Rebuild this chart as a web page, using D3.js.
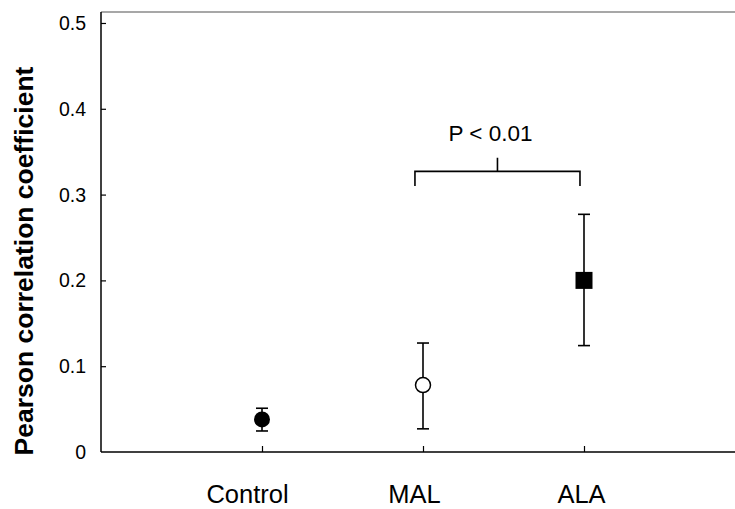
<!DOCTYPE html>
<html>
<head>
<meta charset="utf-8">
<script src="https://cdn.jsdelivr.net/npm/d3@7"></script>
<style>
  html, body { margin: 0; padding: 0; background: #fff; }
  svg { display: block; font-family: "Liberation Sans", Arial, sans-serif; }
</style>
</head>
<body>
<svg id="chart" width="735" height="509"></svg>
<script>
// Group means with lower / upper error limits
const groups = ["Control", "MAL", "ALA"];
const groupPos = [1, 2, 3];
const means = [0.038, 0.078, 0.200];
const lower = [0.0245, 0.027, 0.124];
const upper = [0.051, 0.127, 0.277];
const markers = ["filledCircle", "openCircle", "filledSquare"];

const yTicks = [0, 0.1, 0.2, 0.3, 0.4, 0.5];
const yTickLabels = ["0", "0.1", "0.2", "0.3", "0.4", "0.5"];

// Significance bracket between MAL and ALA
const bracketFrom = 1.95;
const bracketTo = 2.975;
const bracketY = 0.327;
const bracketDrop = 0.310;
const bracketTip = 0.343;
const bracketLabel = "P < 0.01";
const bracketLabelY = 0.363;

const svg = d3.select("#chart");

const x = d3.scaleLinear().domain([0, 4]).range([101, 745]);
const y = d3.scaleLinear().domain([0, 0.5128]).range([452, 12]);
// category labels sit on a slightly wider spacing than the ticks
const xLabel = d3.scaleLinear().domain([0, 4]).range([80.5, 748.5]);

// frame: gray top edge
svg.append("line")
  .attr("x1", x(0)).attr("x2", 735)
  .attr("y1", y.range()[1]).attr("y2", y.range()[1])
  .attr("stroke", "#8a8a8a").attr("stroke-width", 1.5);

// Y axis (ticks pointing inward)
const yAxis = d3.axisRight(y)
  .tickValues(yTicks.slice(1))
  .tickSize(5)
  .tickFormat("");
const gy = svg.append("g").attr("transform", `translate(${x(0)},0)`).call(yAxis);
gy.select(".domain").remove();
gy.selectAll(".tick line").attr("stroke", "#000").attr("stroke-width", 1.2);
svg.append("line")
  .attr("x1", x(0)).attr("x2", x(0))
  .attr("y1", y.range()[1]).attr("y2", y(0))
  .attr("stroke", "#000").attr("stroke-width", 1.5);

svg.append("g").selectAll("text")
  .data(yTicks)
  .join("text")
  .attr("x", 86)
  .attr("y", d => y(d))
  .attr("dy", "0.36em")
  .attr("text-anchor", "end")
  .attr("font-size", 19.5)
  .attr("fill", "#000")
  .text((d, i) => yTickLabels[i]);

// X axis (ticks pointing inward)
const xAxis = d3.axisTop(x)
  .tickValues(groupPos)
  .tickSize(6)
  .tickFormat("");
const gx = svg.append("g").attr("transform", `translate(0,${y(0)})`).call(xAxis);
gx.select(".domain").remove();
gx.selectAll(".tick line").attr("stroke", "#000").attr("stroke-width", 1.2);
svg.append("line")
  .attr("x1", x(0)).attr("x2", 735)
  .attr("y1", y(0)).attr("y2", y(0))
  .attr("stroke", "#000").attr("stroke-width", 1.5);

svg.append("g").selectAll("text")
  .data(groups)
  .join("text")
  .attr("x", (d, i) => xLabel(groupPos[i]))
  .attr("y", 502.5)
  .attr("text-anchor", "middle")
  .attr("font-size", 25.5)
  .attr("fill", "#000")
  .text(d => d);

// Y axis title
svg.append("text")
  .attr("transform", "translate(33,261) rotate(-90)")
  .attr("text-anchor", "middle")
  .attr("font-size", 26.5)
  .attr("font-weight", "bold")
  .attr("fill", "#000")
  .text("Pearson correlation coefficient");

// Error bars
const capHalf = 6;
const eb = svg.append("g").attr("stroke", "#000").attr("stroke-width", 1.6);
groups.forEach((g, i) => {
  const cx = x(groupPos[i]);
  eb.append("line").attr("x1", cx).attr("x2", cx).attr("y1", y(upper[i])).attr("y2", y(lower[i]));
  eb.append("line").attr("x1", cx - capHalf).attr("x2", cx + capHalf).attr("y1", y(upper[i])).attr("y2", y(upper[i]));
  eb.append("line").attr("x1", cx - capHalf).attr("x2", cx + capHalf).attr("y1", y(lower[i])).attr("y2", y(lower[i]));
});

// Markers
const mk = svg.append("g");
groups.forEach((g, i) => {
  const cx = x(groupPos[i]), cy = y(means[i]);
  if (markers[i] === "filledCircle") {
    mk.append("circle").attr("cx", cx).attr("cy", cy).attr("r", 8).attr("fill", "#000");
  } else if (markers[i] === "openCircle") {
    mk.append("circle").attr("cx", cx).attr("cy", cy).attr("r", 7.5)
      .attr("fill", "#fff").attr("stroke", "#000").attr("stroke-width", 1.5);
  } else {
    mk.append("rect").attr("x", cx - 8.5).attr("y", cy - 8.5).attr("width", 17).attr("height", 17).attr("fill", "#000");
  }
});

// Significance bracket
const bx1 = x(bracketFrom), bx2 = x(bracketTo), bmid = (bx1 + bx2) / 2;
svg.append("path")
  .attr("d", `M${bx1},${y(bracketDrop)}V${y(bracketY)}H${bx2}V${y(bracketDrop)}M${bmid},${y(bracketY)}V${y(bracketTip)}`)
  .attr("fill", "none").attr("stroke", "#000").attr("stroke-width", 1.6);
svg.append("text")
  .attr("x", bmid - 7)
  .attr("y", y(bracketLabelY))
  .attr("text-anchor", "middle")
  .attr("font-size", 22.5)
  .attr("fill", "#000")
  .text(bracketLabel);
</script>
</body>
</html>
